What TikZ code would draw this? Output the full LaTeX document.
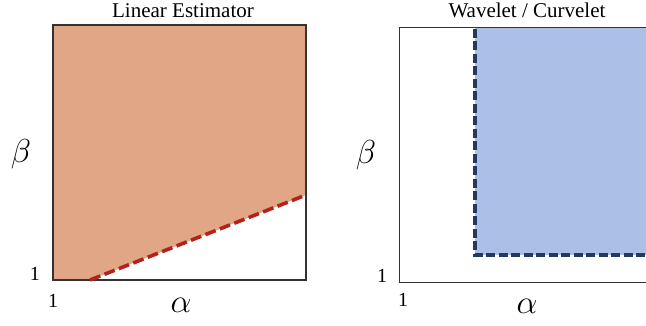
\documentclass[tikz,border=0pt]{standalone}
\usepackage{fontspec}
\setmainfont{Liberation Serif}
\definecolor{orfill}{HTML}{E0A686}
\definecolor{reddash}{HTML}{B3221C}
\definecolor{blfill}{HTML}{ACC0E7}
\definecolor{bldash}{HTML}{233963}
\definecolor{framec}{HTML}{333333}
\begin{document}
\begin{tikzpicture}[x=1pt,y=-1pt,
  ttl/.style={font=\fontsize{21}{21}\selectfont,anchor=base,inner sep=0pt},
  one/.style={font=\fontsize{20}{20}\selectfont,inner sep=0pt},
  sym/.style={font=\fontsize{20}{20}\selectfont,inner sep=0pt,scale=1.6},
  frame/.style={draw=framec,line width=1.3pt},
  reddashed/.style={draw=reddash,line width=3.6pt,dash pattern=on 11pt off 4.5pt},
  bluedashed/.style={draw=bldash,line width=3.2pt,dash pattern=on 9pt off 3.5pt}]
\useasboundingbox (0,0) rectangle (646,325);
\clip (0,0) rectangle (646,325);
% left panel
\coordinate (lTL) at (53,25);
\coordinate (lTR) at (306,25);
\coordinate (lBR) at (306,280);
\coordinate (lBL) at (53,280);
\coordinate (lS) at (90,280);
\coordinate (lE) at (306,195);
\fill[orfill] (lTL) -- (lTR) -- (lE) -- (lS) -- (lBL) -- cycle;
\draw[frame] (lTL) rectangle (lBR);
\draw[reddashed] (lS) -- (lE);
\node[ttl] (t1) at (183,17) {Linear Estimator};
\node[sym] (b1) at (21,154) {$\beta$};
\node[sym] (a1) at (181,305) {$\alpha$};
\node[one] (y1) at (35,274) {1};
\node[one] (x1) at (53,301) {1};
% right panel
\coordinate (rTL) at (399.5,27.5);
\coordinate (rBR) at (670,282.5);
\coordinate (bTL) at (475,28);
\coordinate (bBL) at (475,255);
\coordinate (bBR) at (670,255);
\fill[blfill] (bTL) rectangle (bBR);
\draw[frame] (rTL) rectangle (rBR);
\draw[bluedashed] (bBR) -- (bBL) -- (bTL);
\node[ttl] (t2) at (527,17) {Wavelet / Curvelet};
\node[sym] (b2) at (366,155) {$\beta$};
\node[sym] (a2) at (527,306) {$\alpha$};
\node[one] (y2) at (382,276) {1};
\node[one] (x2) at (403,300) {1};
\end{tikzpicture}
\end{document}
